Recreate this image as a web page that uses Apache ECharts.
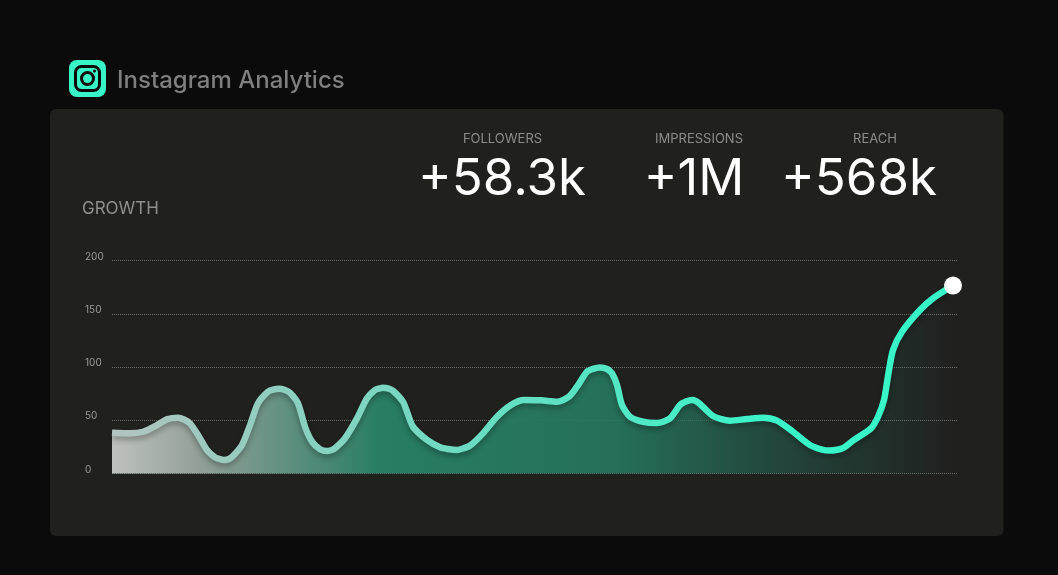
<!DOCTYPE html>
<html><head><meta charset="utf-8">
<style>html,body{margin:0;padding:0;background:#0b0b0b}#c{width:1058px;height:575px}</style>
<script src="https://cdn.jsdelivr.net/npm/echarts@6/dist/echarts.min.js"></script>
</head><body><div id="c"></div>
<script>
const xPos = [0,18,31,45,55,60,66,72,78,86,95,103,108,112,117,121,130,138,146,156,161,167,173,178,186,193,200,208,215,219,223,233,245,255,263,267,271,276,281,291,295,301,315,328,336,345,351,358,371,385,399,412,429,445,457,465,475,481,488,495,500,505,510,518,531,545,558,568,574,580,584,588,601,618,635,651,665,681,698,711,718,725,731,742,759,766,772,776,781,790,808,821,841];
const growth = [38.3,37.7,39.2,45.5,50.9,52,52.4,50.7,47.1,36.2,22.1,15.2,13.4,12.7,13.6,16.4,26.8,45.5,65.9,76.8,78.8,79.6,78.4,75.9,65.9,43.9,29.9,22.7,21.1,21.8,23.7,33.1,51.8,70.6,78.4,79.8,80.6,80,77.7,67.4,58,43.9,31.5,24.6,23,22.1,23.5,26.1,37.7,53.3,64.3,69,68.7,67.4,72.1,81.5,95.6,98.3,99.6,98.1,94.1,83.1,64.3,53.3,48.6,47.4,51.8,64.3,67.5,69,68,65.3,54,49.6,51.2,52.4,49.6,39.2,26.8,22.1,21.5,22.3,23.8,31.5,42.4,53.3,69,91.5,116,133.1,153.5,164.5,176.5];
const yTicks = [0,50,100,150,200];
const chartTitle = 'Instagram Analytics';
const sectionLabel = 'GROWTH';
const statNames = ['FOLLOWERS','IMPRESSIONS','REACH'];
const statValues = ['+58.3k','+1M','+568k'];

const points = xPos.map((x,i)=> i===xPos.length-1
  ? {value:[x,growth[i]],symbol:'circle',symbolSize:18,itemStyle:{color:'#fff',opacity:1}}
  : [x,growth[i]]);
const font = 'Inter, "Noto Sans", sans-serif';
const statCx = [502.5,699,875], statVx = [502,694,859];
const chart = echarts.init(document.getElementById('c'),null,{renderer:'canvas'});
chart.setOption({
  backgroundColor:'#0b0b0b',
  animation:false,
  grid:{left:112,top:260.5,width:845,height:213},
  xAxis:{type:'value',min:0,max:845,show:false},
  yAxis:{type:'value',min:0,max:200,interval:50,
    axisLine:{show:false},axisTick:{show:false},
    axisLabel:{color:'#9a9a98',fontSize:10,fontFamily:font,align:'left',margin:27,verticalAlign:'bottom',lineHeight:8,
      formatter:v=>yTicks.includes(v)?String(v):''},
    splitLine:{show:true,lineStyle:{color:'rgba(255,255,255,0.36)',type:'dotted',width:1}}},
  series:[{
    type:'line',smooth:0.25,symbol:'none',showSymbol:true,data:points,z:5,clip:false,
    lineStyle:{width:6.5,cap:'butt',join:'round',
      shadowColor:'rgba(0,0,0,0.32)',shadowBlur:6,shadowOffsetY:3,
      color:new echarts.graphic.LinearGradient(0,0,1,0,[
        {offset:0,color:'#b3c4bf'},{offset:0.2,color:'#8ecfbf'},{offset:0.5,color:'#60e0c2'},{offset:0.8,color:'#38f5c8'},{offset:1,color:'#38f5c8'}])},
    areaStyle:{opacity:1,color:new echarts.graphic.LinearGradient(0,0,1,0,[
      {offset:0,color:'rgba(190,194,190,1)'},
      {offset:0.1,color:'rgba(148,160,154,1)'},
      {offset:0.2,color:'rgba(100,145,130,1)'},
      {offset:0.32,color:'rgba(40,125,100,1)'},
      {offset:0.6,color:'rgba(38,120,96,0.9)'},
      {offset:0.85,color:'rgba(38,110,90,0.35)'},
      {offset:1,color:'rgba(38,110,90,0)'}])}
  }],
  graphic:[
    {type:'rect',silent:true,z:-10,shape:{x:50,y:109,width:953.5,height:427,r:6},style:{fill:'#20201f'}},
    {type:'rect',shape:{x:69,y:60,width:37,height:37,r:8},style:{fill:'#38f5c8'}},
    {type:'rect',shape:{x:75.5,y:66.5,width:24,height:24,r:6},style:{fill:'none',stroke:'#0b0b0b',lineWidth:3}},
    {type:'circle',shape:{cx:87.5,cy:78.5,r:6},style:{fill:'none',stroke:'#0b0b0b',lineWidth:3}},
    {type:'circle',shape:{cx:94.5,cy:71,r:1.5},style:{fill:'#0b0b0b'}},
    {type:'text',x:117,y:81,style:{text:chartTitle,fill:'#7f7f7f',font:'500 24px '+font,textVerticalAlign:'middle'}},
    {type:'text',x:82,y:209,style:{text:sectionLabel,fill:'#8f8f8d',font:'400 17px '+font,textVerticalAlign:'middle'}},
    ...statNames.map((t,i)=>({type:'text',x:statCx[i],y:139,style:{text:t,fill:'#8c8c8a',font:'400 13px '+font,textAlign:'center',textVerticalAlign:'middle'}})),
    ...statValues.map((t,i)=>({type:'text',x:statVx[i],y:180,style:{text:t,fill:'#ffffff',font:'400 51px '+font,textAlign:'center',textVerticalAlign:'middle'}}))
  ]
});
</script></body></html>
